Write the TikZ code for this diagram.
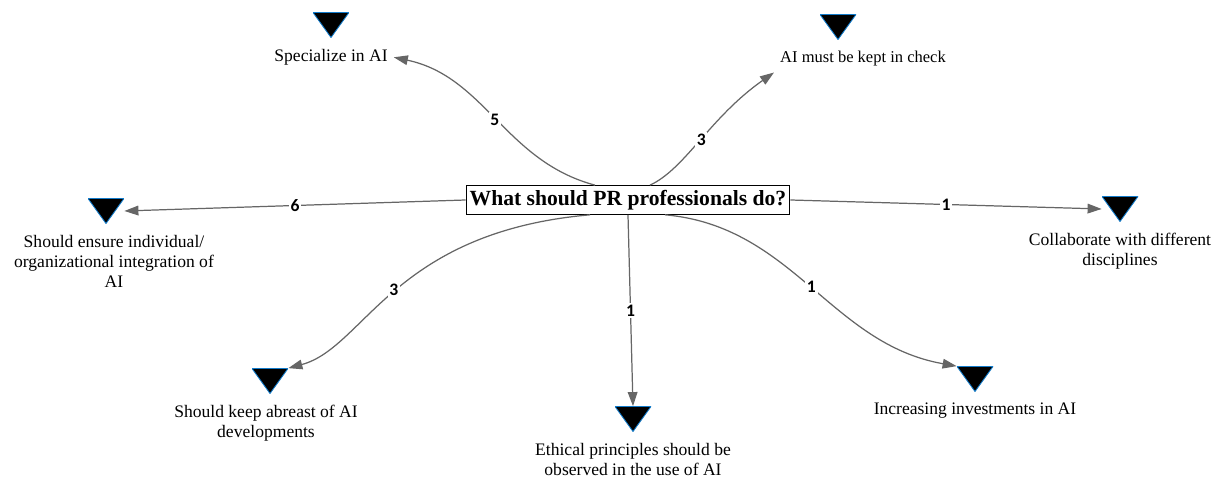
\documentclass[tikz,border=0pt]{standalone}
\usepackage{fontspec}
\setmainfont{Liberation Serif}
\newfontfamily\numfont{Carlito}
\usepackage{tikz}
\usetikzlibrary{arrows.meta, positioning}

\begin{document}
\begin{tikzpicture}[x=0.02cm,y=0.02cm,>={Triangle[length=8pt,width=5.5pt]},
        title/.style={draw,line width=0.6pt,inner xsep=2pt,inner ysep=2.5pt,font=\fontsize{12.3}{14}\selectfont\bfseries},
        marker/.style={minimum width=0.72cm,minimum height=0.5cm,inner sep=0pt,
            path picture={\filldraw[fill=black,draw=cyan!60!blue,line width=0.5pt]
                (path picture bounding box.north west) -- (path picture bounding box.north east)
                -- (path picture bounding box.south) -- cycle;}},
        topic/.style={align=center,font=\fontsize{10}{11.3}\selectfont},
        count/.style={fill=white,inner sep=1pt,font=\numfont\bfseries\fontsize{10}{11}\selectfont},
        link/.style={->,draw=black!60,line width=0.7pt}]
        \useasboundingbox (0,0) rectangle (1218,479);

        \node[title] (q) at (628,279) {What should PR professionals do?};

        \node[marker] (m1) at (331,454) {};
        \node[topic,below=3pt of m1] (t1) {Specialize in AI};
        \node[marker] (m2) at (838,452) {};
        \node[topic,below=3pt of m2,xshift=0.5cm,font=\fontsize{9.4}{11.3}\selectfont] (t2) {AI must be kept in check};
        \node[marker] (m3) at (106,268) {};
        \node[topic,below=3pt of m3,xshift=0.16cm] (t3) {Should ensure individual/\\organizational integration of\\AI};
        \node[marker] (m4) at (1120,270) {};
        \node[topic,below=3pt of m4] (t4) {Collaborate with different\\disciplines};
        \node[marker] (m5) at (270,98) {};
        \node[topic,below=3pt of m5,xshift=-0.08cm] (t5) {Should keep abreast of AI\\developments};
        \node[marker] (m6) at (633,60) {};
        \node[topic,below=3pt of m6] (t6) {Ethical principles should be\\observed in the use of AI};
        \node[marker] (m7) at (975,100) {};
        \node[topic,below=3pt of m7] (t7) {Increasing investments in AI};

        \path ([xshift=-0.66cm]q.north) edge[link,out=165,in=-12] node[count] {5} (t1.east)
                ([xshift=0.44cm]q.north) edge[link,out=25,in=215,out looseness=0.6,in looseness=1.2] node[count] {3} (t2.south west)
                (q.west) edge[link] node[count] {6} (m3.east)
                (q.east) edge[link] node[count] {1} (m4.west)
                ([xshift=-0.76cm]q.south) edge[link,out=185,in=15,out looseness=1.5,in looseness=0.6] node[count] {3} (m5.north east)
                (q.south) edge[link] node[count] {1} (m6.north)
                ([xshift=0.74cm]q.south) edge[link,out=-5,in=170] node[count] {1} (m7.north west);
    \end{tikzpicture}
\end{document}
